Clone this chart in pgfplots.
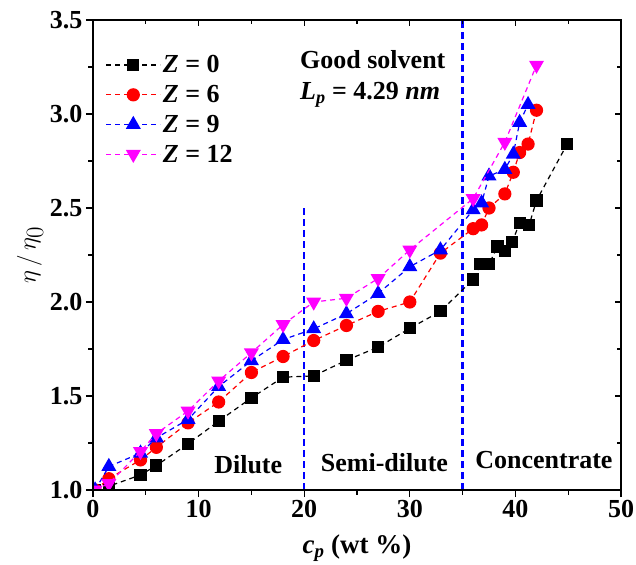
\documentclass[border=0pt]{standalone}
\usepackage{pgfplots}
\pgfplotsset{compat=1.18}
\usepackage{fontspec}
\setmainfont{Liberation Serif}
\definecolor{mag}{RGB}{255,0,255}
\definecolor{pblue}{RGB}{0,0,255}
\definecolor{pred}{RGB}{255,0,0}
\newcommand{\fs}{\fontsize{26}{30}\selectfont}
\begin{document}
\begin{tikzpicture}
\path[use as bounding box] (-93pt,-74pt) rectangle (543pt,490pt);
\begin{axis}[
  at={(0pt,0pt)}, anchor=south west,
  scale only axis, width=528pt, height=470pt,
  xmin=0, xmax=50, ymin=1.0, ymax=3.5,
  xtick={0,10,20,30,40,50}, ytick={1.0,1.5,2.0,2.5,3.0,3.5},
  minor x tick num=1, minor y tick num=1,
  tick align=outside, xtick pos=bottom, ytick pos=left,
  major tick length=7pt, minor tick length=4.5pt,
  every tick/.style={black, line width=1.3pt},
  axis line style={line width=1.6pt},
  ticklabel style={font=\bfseries\fs},
  /pgf/number format/assume math mode=true,
  yticklabel style={/pgf/number format/.cd, fixed, fixed zerofill, precision=1},
  xlabel={\bfseries\fontsize{27}{30}\selectfont\textit{c}\textsubscript{\textit{p}} (wt \%)},
  xlabel style={at={(axis description cs:0.5,-0.123)}, anchor=center},
  ylabel={\fontsize{33}{36}\selectfont$\eta\,/\,\eta_0$},
  ylabel style={at={(axis description cs:-0.119,0.5)}, anchor=center, rotate=0},
  clip marker paths=true,
  legend style={draw=none, fill=none, font=\bfseries\fs, at={(axis description cs:0.018,0.933)}, anchor=north west, row sep=7pt, legend cell align=left,
    /tikz/every even column/.append style={column sep=10pt}},
  legend image code/.code={\draw[mark repeat=2,mark phase=2,#1] plot coordinates {(0pt,0pt) (27pt,0pt) (54pt,0pt)};},
  every axis plot/.append style={line width=1.2pt, dash pattern=on 5pt off 4pt},
]
\addplot[pblue, line width=2.4pt, dash pattern=on 7pt off 4pt, forget plot] coordinates {(20,1.0) (20,2.5)};
\addplot[pblue, line width=2.4pt, dash pattern=on 7pt off 4pt, forget plot] coordinates {(35,1.0) (35,3.5)};

\addplot[black, mark=square*, mark size=5.5pt, mark options={solid, fill=black}] coordinates {
(0.2,1.0) (1.5,1.02) (4.5,1.08) (6.0,1.13) (9.0,1.246) (11.9,1.366) (15.0,1.49) (18.0,1.60)
(20.9,1.607) (24.0,1.69) (27.0,1.76) (30.0,1.86) (32.9,1.95) (36.0,2.12) (36.7,2.2)
(37.5,2.2) (38.3,2.295) (39.0,2.27) (39.7,2.32) (40.4,2.42) (41.3,2.41) (42.0,2.54) (44.9,2.84)};
\addlegendentry{\textit{Z} = 0}

\addplot[pred, mark=*, mark size=6pt, mark options={solid, fill=pred}] coordinates {
(0.2,1.0) (1.5,1.06) (4.5,1.16) (6.0,1.227) (9.0,1.357) (11.9,1.468) (15.0,1.625) (18.0,1.71)
(20.9,1.795) (24.0,1.875) (27.0,1.95) (30.0,2.0) (32.9,2.26) (36.0,2.39) (36.8,2.41)
(37.5,2.50) (39.0,2.575) (39.8,2.69) (40.4,2.795) (41.2,2.84) (42.0,3.02)};
\addlegendentry{\textit{Z} = 6}

\addplot[pblue, mark=triangle*, mark size=7.5pt, mark options={solid, fill=pblue}] coordinates {
(0.2,1.0) (1.5,1.125) (4.5,1.196) (6.0,1.277) (9.0,1.375) (11.9,1.55) (15.0,1.6875) (18.0,1.80)
(20.9,1.857) (24.0,1.9375) (27.0,2.045) (30.0,2.1875) (32.9,2.277) (36.0,2.49) (36.8,2.527)
(37.5,2.67) (39.0,2.705) (39.8,2.786) (40.4,2.955) (41.2,3.05)};
\addlegendentry{\textit{Z} = 9}

\addplot[mag, mark=triangle*, mark size=7.5pt, mark options={solid, fill=mag, rotate=180}] coordinates {
(0.2,1.0) (1.5,1.035) (4.5,1.205) (6.0,1.30) (9.0,1.42) (11.9,1.58) (15.0,1.73) (18.0,1.88)
(20.9,2.0) (24.0,2.02) (27.0,2.125) (30.0,2.277) (36.0,2.55) (39.0,2.85) (42.0,3.26)};
\addlegendentry{\textit{Z} = 12}

\node[anchor=center, font=\bfseries\fs] at (axis cs:14.7,1.134) {Dilute};
\node[anchor=center, font=\bfseries\fs] at (axis cs:27.6,1.146) {Semi-dilute};
\node[anchor=center, font=\bfseries\fs] at (axis cs:42.7,1.16) {Concentrate};
\node[anchor=west, font=\bfseries\fs, inner sep=0pt] at (axis cs:19.6,3.29) {Good solvent};
\node[anchor=west, font=\bfseries\fs, inner sep=0pt] at (axis cs:19.6,3.10) {\textit{L}\textsubscript{\textit{p}} = 4.29 \textit{nm}};
\end{axis}
\begin{axis}[
  at={(0pt,0pt)}, anchor=south west,
  scale only axis, width=528pt, height=470pt,
  xmin=0, xmax=50, ymin=1.0, ymax=3.5,
  xtick={0,10,20,30,40,50}, ytick={1.0,1.5,2.0,2.5,3.0,3.5},
  minor x tick num=1, minor y tick num=1,
  tick align=inside, xtick pos=top, ytick pos=right,
  major tick length=6pt, minor tick length=4pt,
  every tick/.style={black, line width=1.3pt},
  axis line style={line width=1.6pt},
  xticklabels={}, yticklabels={},
]
\end{axis}
\end{tikzpicture}
\end{document}
